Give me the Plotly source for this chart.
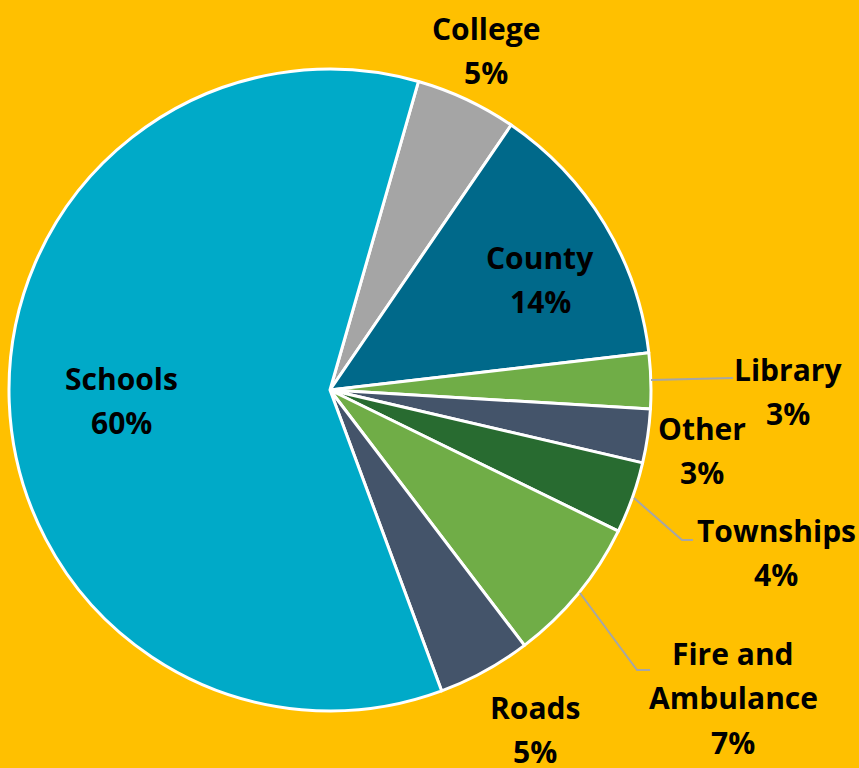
import plotly.graph_objects as go

W, H = 859, 768

categories = ["College", "County", "Library", "Other", "Townships",
              "Fire and Ambulance", "Roads", "Schools"]
shares = [5.1, 13.6, 2.8, 2.7, 3.6, 7.4, 4.7, 60.1]
colors = ["#A5A5A5", "#00698A", "#70AD47", "#44546A", "#286B30",
          "#70AD47", "#44546A", "#00AAC8"]

# label line texts and their centre positions (pixels)
label_lines = {
    "College": (["College"], 486, 28),
    "County": (["County"], 540, 257),
    "Library": (["Library"], 788, 369),
    "Other": (["Other"], 702, 428),
    "Townships": (["Townships"], 776, 530),
    "Fire and Ambulance": (["Fire and", "Ambulance"], 733, 653),
    "Roads": (["Roads"], 535, 707),
    "Schools": (["Schools"], 121, 378),
}
LINE_GAP = 44.5

total = sum(shares)

fig = go.Figure(go.Pie(
    labels=categories, values=shares, sort=False, direction="clockwise",
    rotation=16, textinfo="none", hoverinfo="label+percent",
    marker=dict(colors=colors, line=dict(color="white", width=3)),
    domain=dict(x=[9 / W, 651 / W], y=[(378 - 321) / H, (378 + 321) / H]),
    showlegend=False,
))

def px(x, y):
    return x / W, 1 - y / H

annotations = []
for cat, val in zip(categories, shares):
    lines, cx, cy = label_lines[cat]
    pct = f"{round(val / total * 100):d}%"
    for i, t in enumerate(lines + [pct]):
        x, y = px(cx, cy + i * LINE_GAP)
        annotations.append(dict(
            x=x, y=y, xref="paper", yref="paper", text=f"<b>{t}</b>",
            showarrow=False, xanchor="center", yanchor="middle",
            font=dict(family="Open Sans", size=30, color="black")))

leaders = [
    [(651, 380), (733, 378)],
    [(634, 498), (682, 540), (693, 540)],
    [(580, 593), (637, 670), (650, 670)],
]
shapes = []
for pts in leaders:
    path = "M " + " L ".join(f"{px(x, y)[0]},{px(x, y)[1]}" for x, y in pts)
    shapes.append(dict(type="path", xref="paper", yref="paper", path=path,
                       line=dict(color="#A6A6A6", width=2)))

fig.update_layout(
    width=W, height=H, margin=dict(l=0, r=0, t=0, b=0),
    paper_bgcolor="#FFC000", plot_bgcolor="#FFC000",
    annotations=annotations, shapes=shapes,
)

fig.write_html("out.html", config={"displayModeBar": False},
               post_script="document.body.style.margin='0';"
                           "document.body.style.overflow='hidden';")
